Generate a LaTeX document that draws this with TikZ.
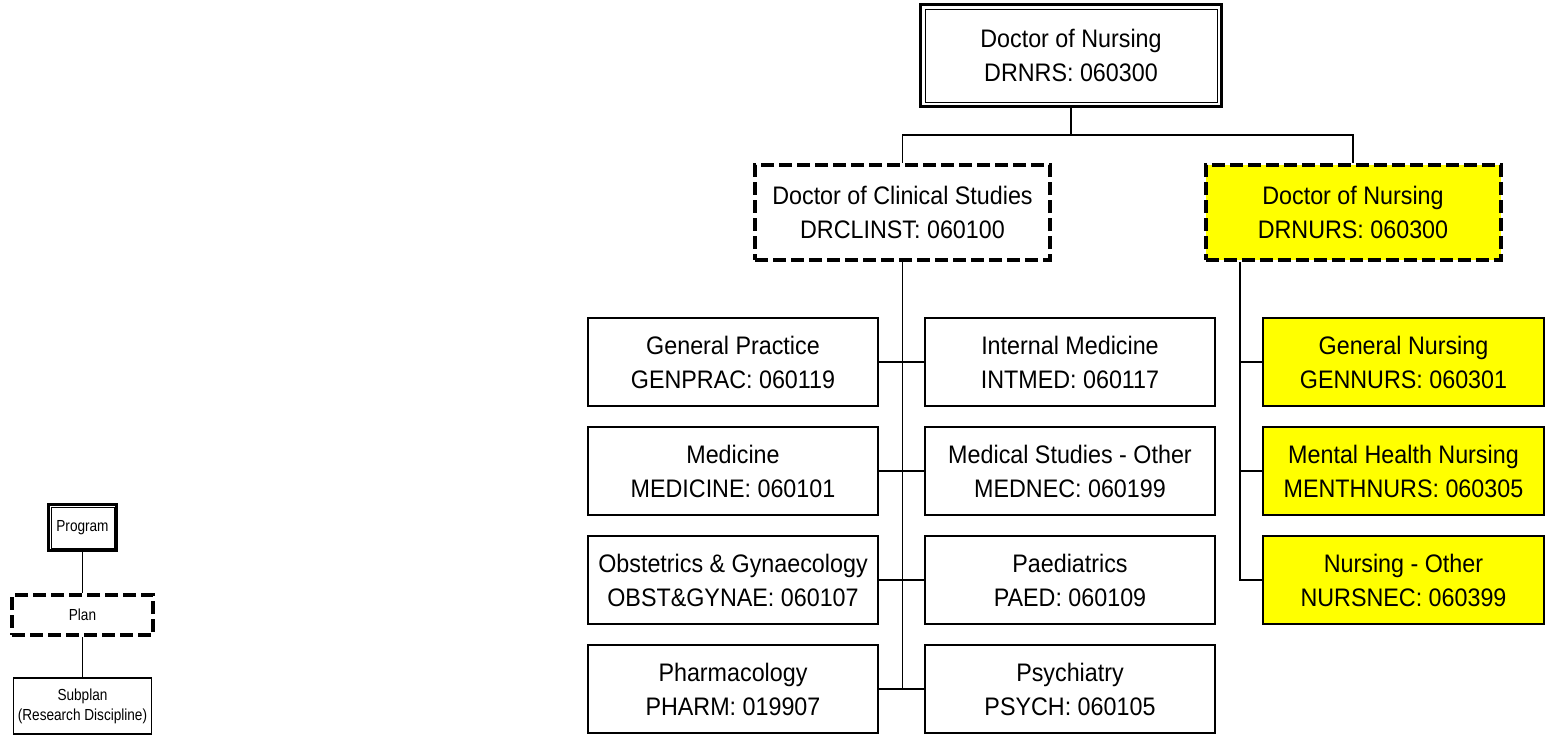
\documentclass[tikz,border=0pt]{standalone}
\usepackage{fontspec}
\setmainfont{Liberation Sans}[FakeStretch=0.92]
\newfontfamily\keyfont{Liberation Sans}[FakeStretch=0.85]
\definecolor{hiyellow}{RGB}{255,255,0}
\usetikzlibrary{shapes}

\begin{document}
\begin{tikzpicture}[x=0.75pt,y=-0.75pt,node distance=81.75pt,line width=1.1pt]
\tikzstyle{bx}=[rectangle,draw=black,text=black,align=center,inner sep=0pt,font=\fontsize{19}{25.5}\selectfont]
\tikzstyle{sub}=[bx,minimum width=217.5pt,minimum height=66pt]
\tikzstyle{ysub}=[bx,fill=hiyellow,minimum width=210.75pt,minimum height=66pt]
\tikzstyle{plan}=[bx,line width=3pt,dash pattern=on 9.75pt off 3.75pt,minimum width=221.25pt,minimum height=71.25pt]
\tikzstyle{prog}=[bx,line width=2.25pt,minimum width=225.75pt,minimum height=76.5pt]
\tikzstyle{keytxt}=[font=\keyfont\fontsize{12}{15}\selectfont]
\useasboundingbox (0,0) rectangle (1547,736);

% legend
\node[prog,keytxt,minimum width=51pt,minimum height=34.5pt] (lprog) at (82.5,527.5) {Program};
\node[plan,keytxt,minimum width=105.75pt,minimum height=30pt] (lplan) at (82.5,615) {Plan};
\node[bx,keytxt,minimum width=103.5pt,minimum height=42pt] (lsub) at (82.5,706) {Subplan\\(Research Discipline)};
\draw[line width=0.75pt] ([shift={(4,4)}]lprog.north west) rectangle ([shift={(-4,-4)}]lprog.south east);
\draw (lprog) -- (lplan);
\draw (lplan) -- (lsub);

% program and plans
\node[prog] (top) at (1071,55.5) {Doctor of Nursing\\DRNRS: 060300};
\draw[line width=0.75pt] ([shift={(6,6)}]top.north west) rectangle ([shift={(-6,-6)}]top.south east);
\node[plan]               (clin) at (902.5,212.5) {Doctor of Clinical Studies\\DRCLINST: 060100};
\node[plan,fill=hiyellow] (nurs) at (1353,212.5)  {Doctor of Nursing\\DRNURS: 060300};

% subplans
\node[sub] (gp)  at (733,362)    {General Practice\\GENPRAC: 060119};
\node[sub] (med) [below of=gp]  {Medicine\\MEDICINE: 060101};
\node[sub] (obs) [below of=med] {Obstetrics \& Gynaecology\\OBST\&GYNAE: 060107};
\node[sub] (pha) [below of=obs] {Pharmacology\\PHARM: 019907};
\node[sub] (im)  at (1070,362)   {Internal Medicine\\INTMED: 060117};
\node[sub] (mso) [below of=im]  {Medical Studies - Other\\MEDNEC: 060199};
\node[sub] (pae) [below of=mso] {Paediatrics\\PAED: 060109};
\node[sub] (psy) [below of=pae] {Psychiatry\\PSYCH: 060105};
\node[ysub] (gn)  at (1403.5,362) {General Nursing\\GENNURS: 060301};
\node[ysub] (mhn) [below of=gn]  {Mental Health Nursing\\MENTHNURS: 060305};
\node[ysub] (no)  [below of=mhn] {Nursing - Other\\NURSNEC: 060399};

% connectors
\coordinate (bus) at (1071,135);
\coordinate (nspine) at (1240,262);
\draw (top) -- (bus) -| (clin);
\draw (bus) -| (nurs);
\foreach \n in {gp,med,obs,pha,im,mso,pae,psy}
  \draw (clin.south) |- (\n);
\foreach \n in {gn,mhn,no}
  \draw (nurs.south -| nspine) |- (\n);
\end{tikzpicture}
\end{document}
